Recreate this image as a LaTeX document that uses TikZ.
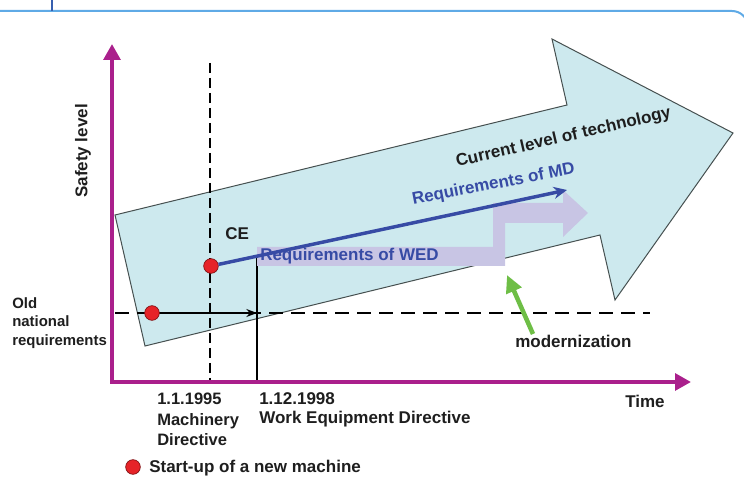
\documentclass[tikz,border=0pt]{standalone}
\usepackage{fontspec}
\setmainfont{Liberation Sans}
\usetikzlibrary{arrows.meta}
\definecolor{axismagenta}{RGB}{170,32,140}
\definecolor{techcyan}{RGB}{205,233,238}
\definecolor{arrowgray}{RGB}{70,80,80}
\definecolor{wedlav}{RGB}{200,197,228}
\definecolor{mdblue}{RGB}{55,75,165}
\definecolor{modgreen}{RGB}{110,190,70}
\definecolor{dotred}{RGB}{230,35,40}
\definecolor{frameblue}{RGB}{95,170,230}
\definecolor{tickblue}{RGB}{55,95,175}
\definecolor{txtgray}{RGB}{30,30,30}
\begin{document}
\begin{tikzpicture}[x=0.75pt, y=-0.75pt, >=Stealth,
    lbl/.style={font=\bfseries\fontsize{12.75}{15}\selectfont, text=txtgray, inner sep=0pt},
    dot/.style={circle, fill=dotred, draw=dotred!55!black, line width=0.5pt, minimum size=11pt, inner sep=0pt},
    axis/.style={axismagenta, line width=3pt, {Triangle[length=12pt,width=12.5pt]}-{Triangle[length=12pt,width=12.5pt]}},
    guide/.style={line width=1.8pt}]
  \useasboundingbox (0,0) rectangle (744,484);

  % 1. frame (top edge)
  \draw[frameblue, line width=1.5pt, rounded corners=12pt] (0,11) -- (748,11) -- (748,60);
  \draw[tickblue, line width=1.5pt] (52,0) -- (52,11);

  % 2. big arrow: current level of technology
  \fill[techcyan, draw=arrowgray, line width=0.75pt]
    (145,346) -- (115,215) -- (567,105) -- (552,39) -- (733,133) -- (615,300) -- (600,235) -- cycle;

  % 3. guide lines
  \coordinate (ceTop) at (210,63);
  \coordinate (ceFoot) at (210,382);
  \draw[guide, dash pattern=on 7.5pt off 3.75pt] (ceTop) -- (ceFoot);
  \coordinate (oldL) at (115,313);
  \coordinate (oldR) at (650,313);
  \draw[guide, dash pattern=on 10.5pt off 6pt] (oldL) -- (oldR);
  \coordinate (wedTop) at (257,257);
  \coordinate (wedFoot) at (257,382);
  \draw[line width=1.1pt] (wedTop) -- (wedFoot);

  % 4. axes
  \coordinate (O) at (112,382);
  \coordinate (yEnd) at (112,44);
  \coordinate (xEnd) at (691,382);
  \draw[axis] (yEnd) -- (O) -- (xEnd);

  % 5. WED step arrow (underlay)
  \fill[wedlav] (257,247) -- (493,247) -- (493,203) -- (563,203) -- (563,190) -- (588,213)
    -- (563,237) -- (563,223) -- (505,223) -- (505,266) -- (257,266) -- cycle;

  % 6. start-up points and requirement arrows
  \node[dot] (dotOld) at (152,313) {};
  \node[dot] (dotCE) at (211,266) {};
  \coordinate (mdTip) at (567,190);
  \coordinate (wedHit) at (257,313);
  \draw[mdblue, line width=2.6pt, -{Stealth[length=10pt,width=9pt]}] (dotCE) -- (mdTip);
  \draw[line width=0.9pt, -{Stealth[length=8pt,width=6pt]}] (dotOld) -- (wedHit);

  % 7. modernization
  \coordinate (modTail) at (533,334);
  \coordinate (modTip) at (507,275);
  \draw[modgreen, line width=3.4pt, -{Triangle[length=13pt,width=12pt]}] (modTail) -- (modTip);

  % 8. labels
  \node[lbl, rotate=90] (safety) at (83,151) {Safety level};
  \node[lbl, anchor=base west] (time) at (625,408) {Time};
  \node[lbl, anchor=base west] (ce) at (225,240) {CE};
  \node[lbl, anchor=base west, text=mdblue] (wedLbl) at (260,261) {Requirements of WED};
  \node[lbl, anchor=base west, text=mdblue, rotate=11] (mdLbl) at (413,205) {Requirements of MD};
  \node[lbl, anchor=base west, rotate=13] (techLbl) at (457,167) {Current level of technology};
  \node[lbl, anchor=base west] (modLbl) at (515,348) {modernization};
  \node[lbl, anchor=north west, align=left, font=\bfseries\fontsize{11.2}{13.9}\selectfont] (oldLbl) at (12,297) {Old\\national\\requirements};
  \node[lbl, anchor=north west, align=left, font=\bfseries\fontsize{12.4}{15.4}\selectfont] (mdDate) at (157,393) {1.1.1995\\Machinery\\Directive};
  \node[lbl, anchor=north west, align=left, font=\bfseries\fontsize{12.75}{14.5}\selectfont] (wedDate) at (259,392) {1.12.1998\\Work Equipment Directive};

  % 9. legend
  \node[dot] (dotKey) at (133,467) {};
  \node[lbl, anchor=base west] (keyLbl) at (149,473) {Start-up of a new machine};
\end{tikzpicture}
\end{document}
